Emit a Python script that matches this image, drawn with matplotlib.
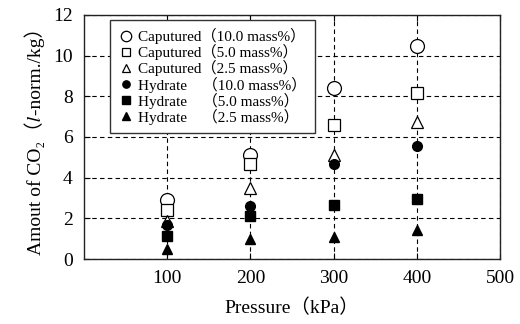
import matplotlib
matplotlib.use("Agg")
import matplotlib.pyplot as plt

plt.rcParams['font.family'] = ['Liberation Serif', 'Noto Sans CJK JP', 'STIXGeneral', 'DejaVu Serif']

# データ (圧力 kPa)
pressure = [100, 200, 300, 400]

cap_10 = [2.89, 5.10, 8.42, 10.49]
cap_5 = [2.40, 4.69, 6.57, 8.15]
cap_25 = [1.85, 3.51, 5.10, 6.75]
hyd_10 = [1.67, 2.60, 4.69, 5.54]
hyd_5 = [1.13, 2.11, 2.65, 2.94]
hyd_25 = [0.48, 0.97, 1.06, 1.42]

labels = [
    "Caputured（10.0 mass%）",
    "Caputured（5.0 mass%）",
    "Caputured（2.5 mass%）",
    "Hydrate    （10.0 mass%）",
    "Hydrate    （5.0 mass%）",
    "Hydrate    （2.5 mass%）",
]

fig = plt.figure(figsize=(5.2, 3.24), dpi=100)
ax = fig.add_axes([0.1615, 0.2006, 0.8, 0.7534])

# 白抜き
ax.plot(pressure, cap_10, 'o', ms=10, mfc='white', mec='black', mew=0.9, ls='none', label=labels[0], zorder=3)
ax.plot(pressure, cap_5, 's', ms=8, mfc='white', mec='black', mew=0.9, ls='none', label=labels[1], zorder=3)
ax.plot(pressure, cap_25, '^', ms=8, mfc='white', mec='black', mew=0.9, ls='none', label=labels[2], zorder=3)
# 塗りつぶし
ax.plot(pressure, hyd_10, 'o', ms=7, color='black', ls='none', label=labels[3], zorder=4)
ax.plot(pressure, hyd_5, 's', ms=7, color='black', ls='none', label=labels[4], zorder=4)
ax.plot(pressure, hyd_25, '^', ms=7, color='black', ls='none', label=labels[5], zorder=4)

ax.set_xlim(0, 500)
ax.set_ylim(0, 12)
ax.set_xticks([100, 200, 300, 400, 500])
ax.set_yticks([0, 2, 4, 6, 8, 10, 12])
ax.tick_params(direction='in', top=True, length=4, labelsize=14, width=0.8)
ax.tick_params(axis='x', pad=8)
ax.tick_params(axis='y', pad=8)

ax.grid(True, ls=(0, (4, 3)), color='black', lw=0.8)
ax.set_axisbelow(True)
for s in ax.spines.values():
    s.set_linewidth(1.0)
    s.set_color('#222222')

ax.set_xlabel("Pressure（kPa）", fontsize=14, labelpad=8)
ax.set_ylabel("Amout of CO₂（\U0001D459-norm./kg）", fontsize=14, labelpad=6)

leg = ax.legend(loc='upper left', bbox_to_anchor=(0.0625, 0.98), fontsize=11,
                frameon=True, fancybox=False, edgecolor='#333333', framealpha=1,
                handletextpad=0.3, handlelength=1.0, labelspacing=0.0,
                borderpad=0.55, borderaxespad=0, markerscale=0.75)
leg.get_frame().set_linewidth(1.0)

fig.savefig("out.png", dpi=100)
